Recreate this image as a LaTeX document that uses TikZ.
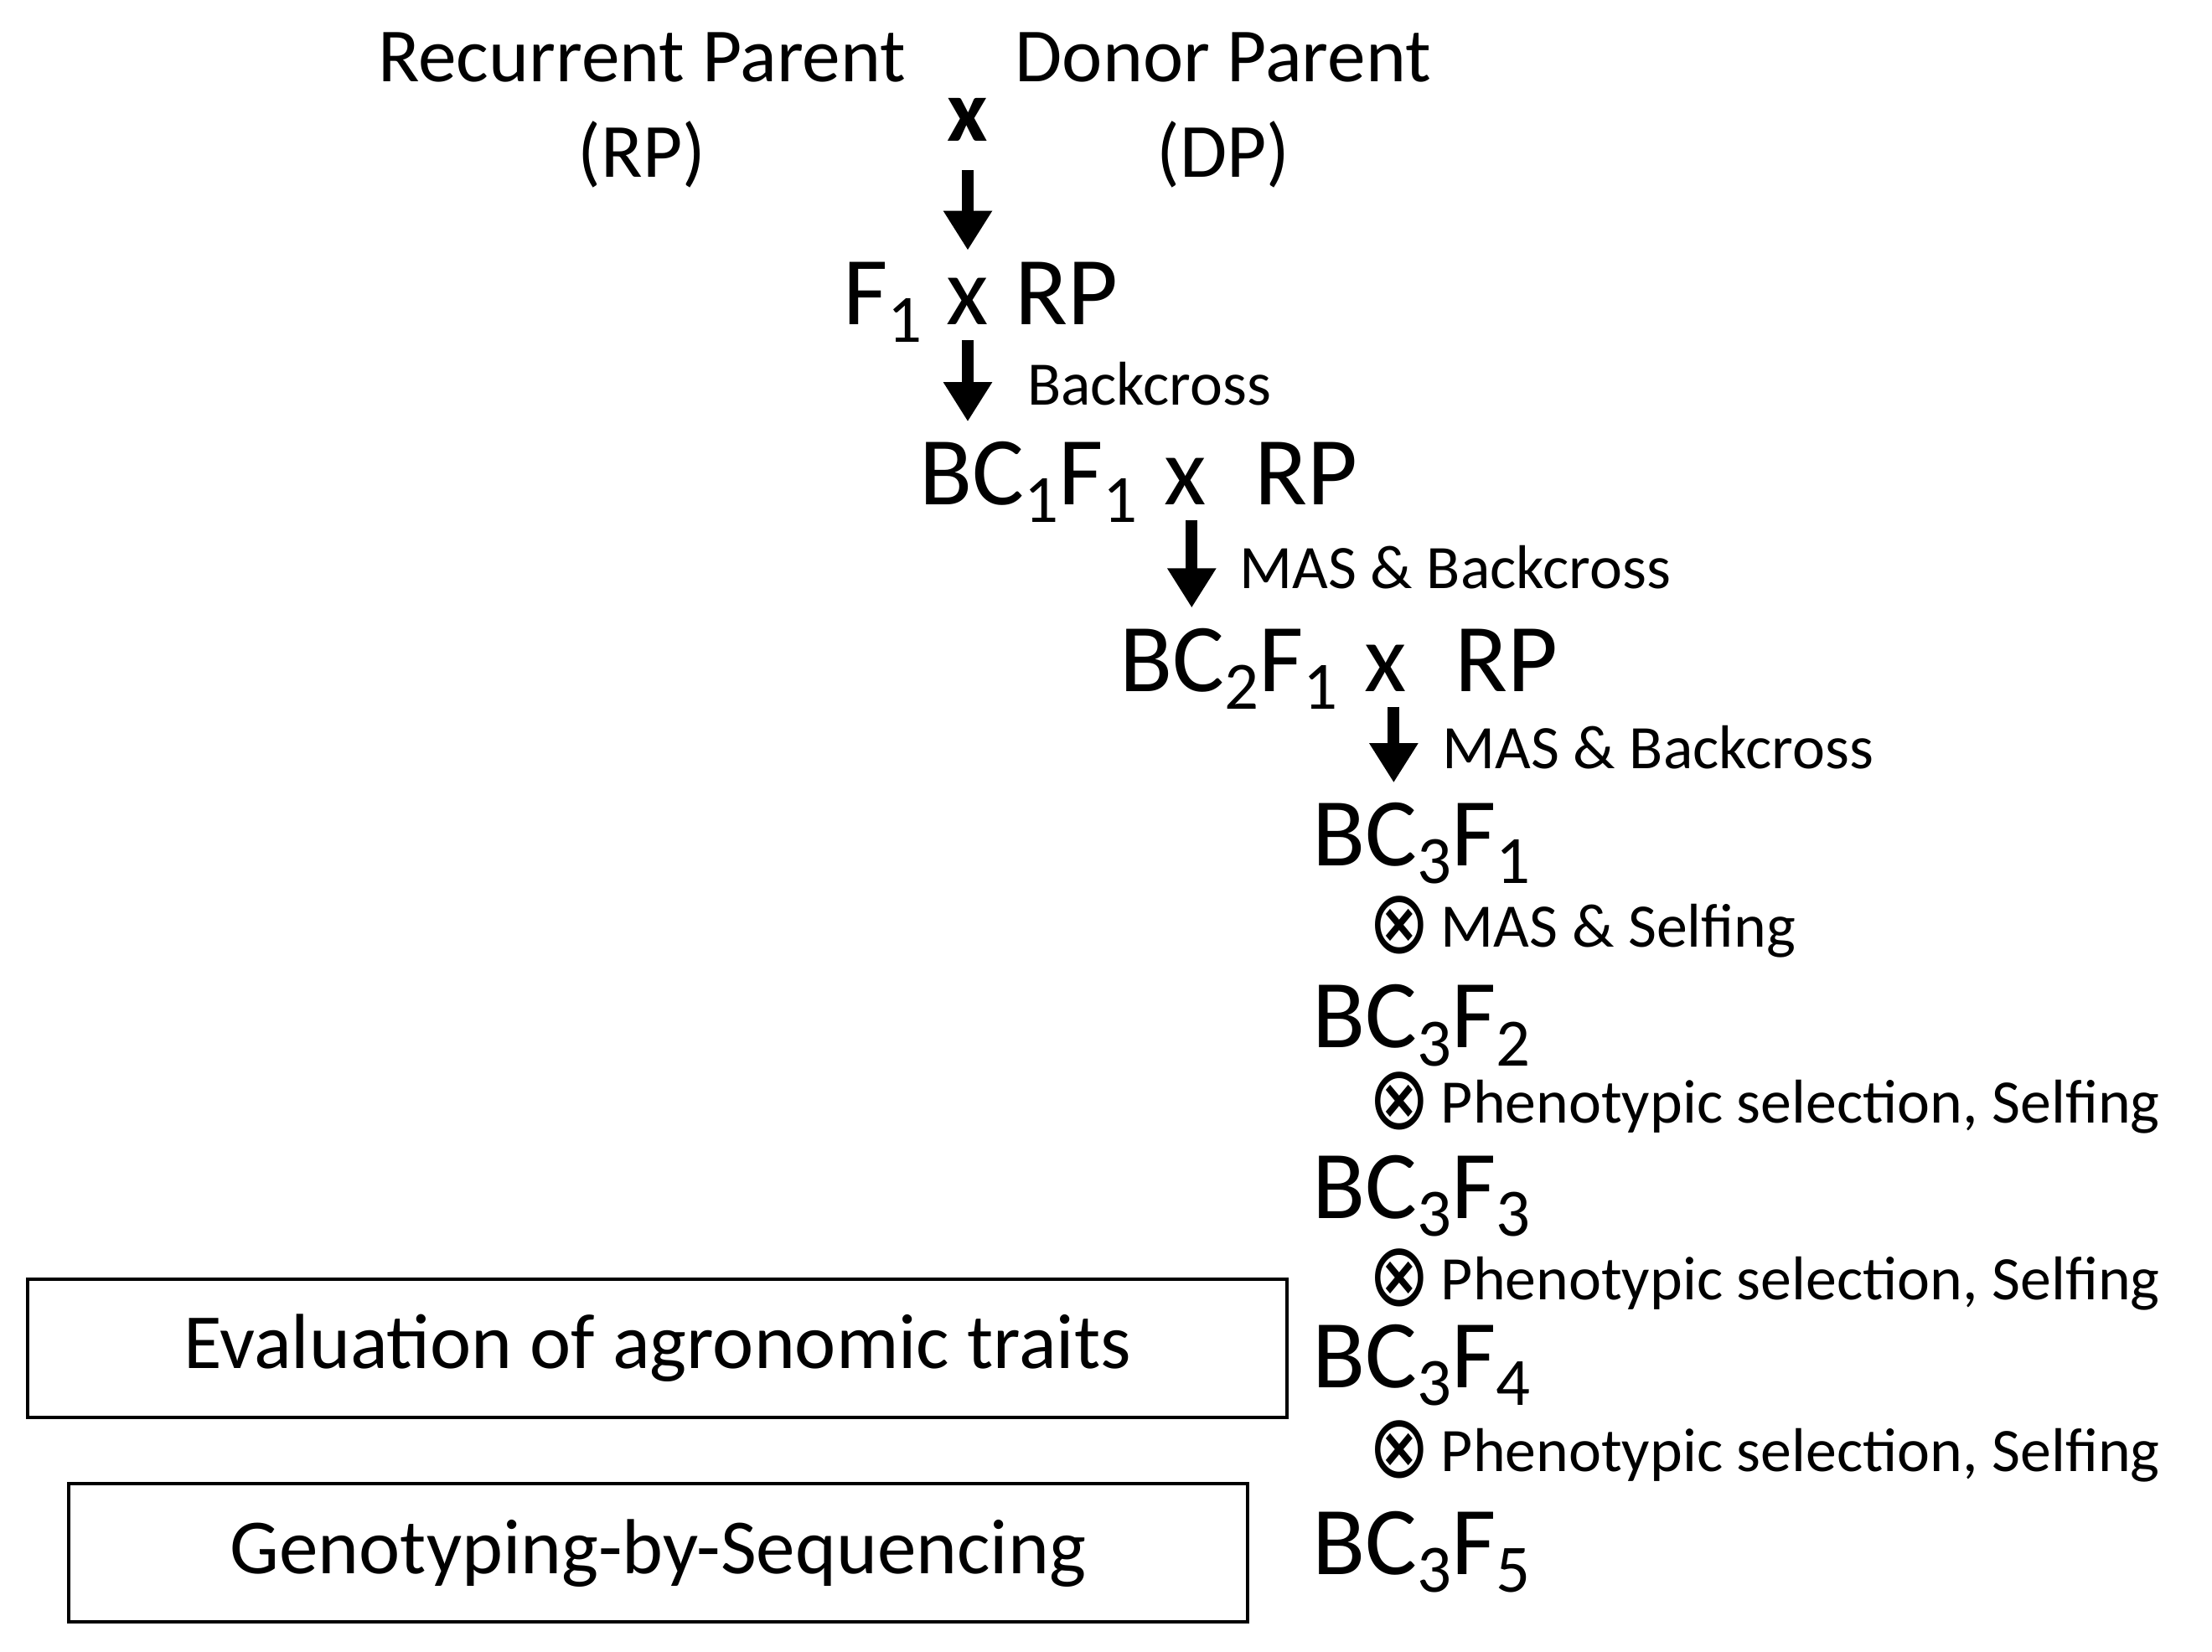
\documentclass[tikz,border=0pt]{standalone}
\usepackage{fontspec}
\setmainfont{Carlito}
\newfontfamily\symfont{DejaVu Sans}
\usepackage{tikz}
\usetikzlibrary{arrows.meta, positioning}

\newcommand\sub[1]{\raisebox{-6pt}{\fontsize{23}{23}\selectfont #1}}
\newcommand\selfsym{{\symfont\fontsize{25}{25}\selectfont\raisebox{-2pt}{\scalebox{1}[1.2]{⊗}}}}

\tikzset{
  big/.style={font=\fontsize{33}{33}\selectfont, inner sep=0pt, text height=21pt, text depth=0pt},
  parent/.style={font=\fontsize{26}{32.5}\selectfont, align=center, inner sep=0pt},
  note/.style={font=\fontsize{21}{21}\selectfont, inner sep=0pt},
  genarrow/.style={line width=4pt, -{Triangle[width=0.55cm,length=0.47cm]},
                   shorten <=0.18cm, shorten >=0.25cm},
  panel/.style={draw, line width=1.2pt, inner sep=0pt, minimum height=1.65cm,
                font=\fontsize{26.5}{26.5}\selectfont}
}

\begin{document}
\begin{tikzpicture}[x=0.016837cm, y=-0.016837cm]
    \useasboundingbox (0,0) rectangle (1568,1171);

    % Parents
    \node[parent] (recpar) at (455,78) {Recurrent Parent\\(RP)};
    \node[parent] (donpar) at (867,78) {Donor Parent\\(DP)};
    \node[font=\fontsize{30}{30}\selectfont\bfseries, inner sep=0pt, anchor=base] (cx0) at (686,100) {x};

    % F1 x RP
    \node[big, anchor=base] (cx1) at (686,230) {x};
    \node[big, base left=0.28cm of cx1] (f1) {F\sub{1}};
    \node[big, base right=0.3cm of cx1] (rp1) {RP};
    \draw[genarrow, shorten <=0.34cm, shorten >=0.14cm] (cx0.south) -- (cx1.north);

    % BC1F1 x RP
    \node[big, anchor=base] (cx2) at (840,358) {x};
    \node[big, base left=0.3cm of cx2] (bcl1) {BC\sub{1}F\sub{1}};
    \node[big, base right=0.57cm of cx2] (rp2) {RP};
    \draw[genarrow] (cx1.south) -- (cx1.south |- bcl1.north)
        node[note, midway, right=0.64cm] {Backcross};

    % BC2F1 x RP
    \node[big, anchor=base] (cx3) at (982,490) {x};
    \node[big, base left=0.3cm of cx3] (bcl2) {BC\sub{2}F\sub{1}};
    \node[big, base right=0.57cm of cx3] (rp3) {RP};
    \draw[genarrow] ([xshift=0.08cm]cx2.south) -- ([xshift=0.08cm]cx2.south |- bcl2.north)
        node[note, midway, right=0.5cm] {MAS \& Backcross};

    % BC3 generations
    \foreach \n/\y in {1/614, 2/743, 3/864, 4/984, 5/1116} {
        \node[big, anchor=base west] (bcf\n) at (930,\y) {BC\sub{3}F\sub{\n}};
    }
    \draw[genarrow] ([xshift=0.1cm]cx3.south) -- ([xshift=0.1cm]cx3.south |- bcf1.north)
        node[note, midway, right=0.51cm] {MAS \& Backcross};

    % Selfing steps
    \foreach \n/\y/\t in {1/657/{MAS \& Selfing}, 2/782/{Phenotypic selection, Selfing},
                          3/907/{Phenotypic selection, Selfing}, 4/1029/{Phenotypic selection, Selfing}} {
        \node[note, anchor=west] (self\n) at (970,\y) {\selfsym\,\t};
    }

    % Analyses
    \node[panel, minimum width=15.02cm] (evalbox) at (466,956) {Evaluation of agronomic traits};
    \node[panel, minimum width=14.06cm] (gbsbox) at (466.5,1101) {Genotyping-by-Sequencing};
\end{tikzpicture}
\end{document}
